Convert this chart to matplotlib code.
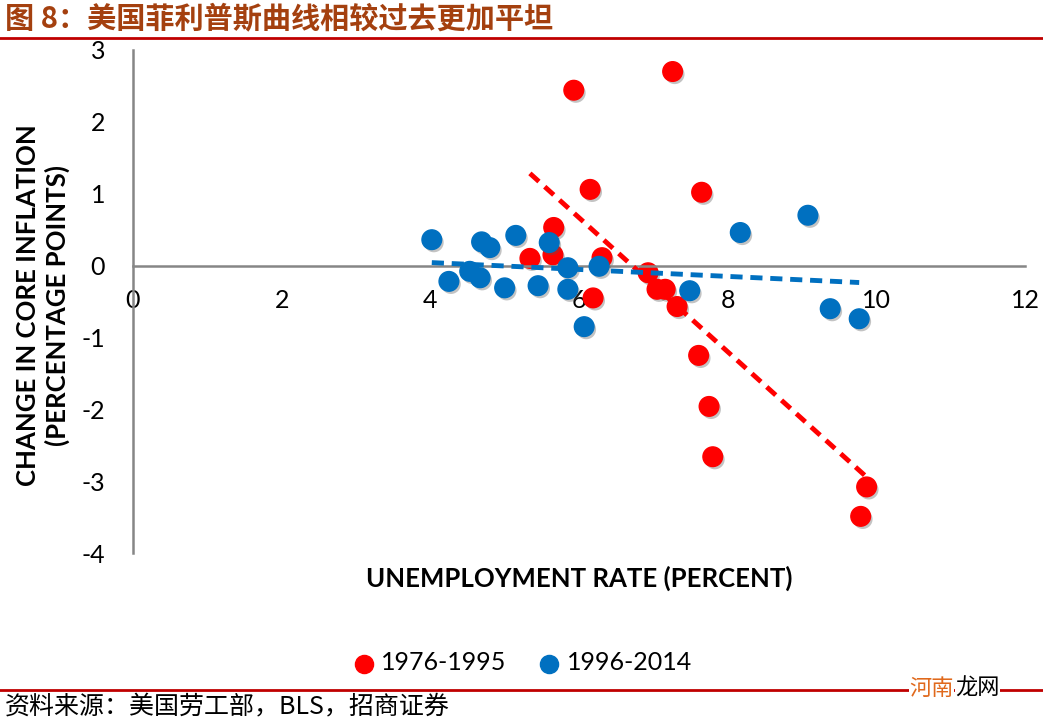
import matplotlib
matplotlib.use("Agg")
import matplotlib.pyplot as plt
import matplotlib.patheffects as pe
import numpy as np

plt.rcParams['font.family'] = ['Lato', 'Noto Sans CJK SC', 'DejaVu Sans']
plt.rcParams['axes.unicode_minus'] = False

# 1976-1995
red_x = [5.93, 7.26, 6.15, 7.65, 5.66, 5.34, 5.65, 6.31, 6.19, 6.93,
         7.05, 7.16, 7.32, 7.61, 7.75, 7.80, 9.87, 9.79]
red_y = [2.44, 2.70, 1.06, 1.02, 0.53, 0.10, 0.15, 0.11, -0.45, -0.10,
         -0.33, -0.33, -0.57, -1.25, -1.96, -2.66, -3.08, -3.49]
# 1996-2014
blue_x = [4.02, 4.25, 4.53, 4.67, 4.69, 4.80, 5.00, 5.15, 5.45, 5.60,
          5.85, 5.85, 6.07, 6.27, 7.49, 8.17, 9.08, 9.38, 9.77]
blue_y = [0.36, -0.22, -0.08, -0.17, 0.33, 0.25, -0.31, 0.42, -0.28, 0.32,
          -0.03, -0.33, -0.85, -0.01, -0.35, 0.46, 0.70, -0.60, -0.74]

xticks = [0, 2, 4, 6, 8, 10, 12]
yticks = [-4, -3, -2, -1, 0, 1, 2, 3]

red = '#ff0000'
blue = '#0070c0'
grey = '#868686'

fig = plt.figure(figsize=(10.43, 7.2), dpi=100)
ax = fig.add_axes([0.1275, 0.2319, 0.8552, 0.6987])

shadow = [pe.SimplePatchShadow(offset=(1.5, -2), shadow_rgbFace='#555555', alpha=0.35),
          pe.Normal()]

# trend lines (linear fit over each series' range)
for xs, ys, c in [(red_x, red_y, red), (blue_x, blue_y, blue)]:
    k, b = np.polyfit(xs, ys, 1)
    lx = np.array([min(xs), max(xs)])
    ax.plot(lx, k * lx + b, color=c, lw=3.5, ls=(0, (2.5, 1.6)), zorder=4)

ax.scatter(blue_x, blue_y, s=200, color=blue, zorder=3, path_effects=shadow)
ax.scatter(red_x, red_y, s=200, color=red, zorder=2, path_effects=shadow)

ax.set_xlim(0, 12)
ax.set_ylim(-4, 3)
ax.set_xticks(xticks)
ax.set_yticks(yticks)
ax.spines['top'].set_visible(False)
ax.spines['right'].set_visible(False)
ax.spines['bottom'].set_position(('data', 0))
for s in ['left', 'bottom']:
    ax.spines[s].set_color(grey)
    ax.spines[s].set_linewidth(1.8)
ax.tick_params(axis='both', length=0, labelsize=18, colors='black')
ax.tick_params(axis='x', pad=17)
ax.tick_params(axis='y', pad=20)

fig.text(0.555, 1 - 578 / 720, 'UNEMPLOYMENT RATE (PERCENT)', ha='center', va='center',
         fontsize=18.5, fontweight='bold')
fig.text(0.041, 1 - 305 / 720, 'CHANGE IN CORE INFLATION\n(PERCENTAGE POINTS)',
         ha='center', va='center', rotation=90, fontsize=18.5, fontweight='bold',
         multialignment='center', linespacing=1.2)

# legend
h1 = ax.scatter([], [], s=170, color=red)
h2 = ax.scatter([], [], s=170, color=blue)
fig.legend([h1, h2], ['1976-1995', '1996-2014'], loc='center', ncol=2,
           bbox_to_anchor=(0.5, 1 - 663 / 720), frameon=False, fontsize=18,
           handletextpad=0.2, columnspacing=1.2, handlelength=1.0)

# title, rules and source
fig.text(0.005, 1 - 18 / 720, '图 8：美国菲利普斯曲线相较过去更加平坦', ha='left', va='center',
         fontsize=21, fontweight='bold', color='#a4400f', family=['Noto Sans CJK SC'])
fig.add_artist(plt.Line2D([0, 1], [1 - 38 / 720, 1 - 38 / 720], color='#c00000', lw=2))
fig.add_artist(plt.Line2D([0, 1], [1 - 690 / 720, 1 - 690 / 720], color='#c00000', lw=2))
fig.text(0.005, 1 - 706 / 720, '资料来源：美国劳工部，BLS，招商证券', ha='left', va='center',
         fontsize=18, family=['Noto Sans CJK SC'])
fig.text(0.872, 1 - 688 / 720, '河南', ha='left', va='center', fontsize=16,
         color='#e0691c', family=['Noto Sans CJK SC'],
         bbox=dict(facecolor='white', edgecolor='none', pad=0))
fig.text(0.916, 1 - 688 / 720, '龙网', ha='left', va='center', fontsize=16,
         color='black', family=['Noto Sans CJK SC'],
         bbox=dict(facecolor='white', edgecolor='none', pad=0))

fig.savefig('out.png', dpi=100)
